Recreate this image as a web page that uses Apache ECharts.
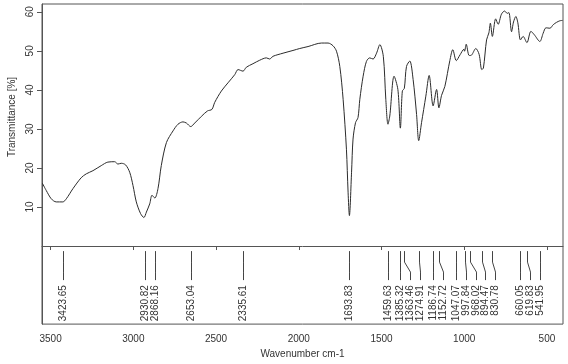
<!DOCTYPE html>
<html>
<head>
<meta charset="utf-8">
<script src="https://cdn.jsdelivr.net/npm/echarts@6/dist/echarts.min.js"></script>
<style>
html, body { margin: 0; padding: 0; background: #fff; }
#irChart { width: 568px; height: 364px; }
</style>
</head>
<body>
<div id="irChart"></div>
<script>
// spectrum (wavenumber cm-1 / transmittance %)
var wavenumbers = [
  3550, 3526, 3496, 3466, 3426, 3405, 3365, 3315, 3284, 3244, 3194, 3154, 3113, 3093, 3073, 3047,
  3022, 3002, 2982, 2956, 2936, 2921, 2901, 2887, 2870, 2851, 2831, 2800, 2760, 2730, 2700, 2679,
  2653, 2629, 2589, 2552, 2525, 2508, 2468, 2428, 2387, 2367, 2337, 2317, 2277, 2236, 2196, 2176,
  2156, 2095, 2035, 1994, 1944, 1863, 1823, 1793, 1772, 1752, 1732, 1712, 1702, 1694, 1681, 1672,
  1657, 1642, 1631, 1611, 1591, 1571, 1551, 1530, 1510, 1489, 1474, 1461, 1450, 1424, 1401, 1386,
  1374, 1362, 1349, 1329, 1309, 1288, 1275, 1258, 1232, 1212, 1188, 1167, 1153, 1137, 1117, 1087,
  1069, 1048, 1025, 1002, 998, 988, 970, 956, 930, 910, 894, 884, 865, 851, 842, 830,
  810, 795, 775, 756, 740, 730, 714, 702, 688, 676, 660, 644, 621, 597, 576, 543,
  523, 506, 482, 462, 442, 422, 405
];
var transmittance = [
  16.1, 14.2, 12.1, 11.3, 11.3, 12.1, 14.7, 17.5, 18.5, 19.3, 20.6, 21.5, 21.6, 21.0, 21.2, 20.8,
  18.9, 15.5, 11.3, 8.3, 7.3, 8.7, 10.8, 13.0, 12.3, 14.7, 20.6, 26.5, 29.5, 31.2, 31.8, 31.5,
  30.6, 31.5, 33.2, 34.6, 35.0, 36.8, 39.7, 41.8, 43.9, 45.2, 44.8, 45.8, 46.7, 47.6, 48.2, 47.9,
  48.6, 49.4, 50.1, 50.6, 51.1, 52.0, 52.0, 51.3, 49.9, 46.0, 37.6, 24.8, 13.8, 7.8, 18.9, 27.4,
  31.6, 32.9, 37.6, 43.5, 47.3, 48.2, 47.9, 49.4, 51.6, 48.6, 37.6, 31.2, 33.3, 43.5, 40.1, 30.2,
  39.7, 40.4, 46.0, 47.4, 42.7, 33.7, 27.0, 31.6, 38.4, 43.7, 35.9, 40.1, 35.4, 38.6, 40.9, 47.5,
  50.3, 47.5, 49.0, 50.4, 49.9, 51.7, 48.8, 48.9, 50.6, 49.1, 45.2, 45.6, 52.8, 54.6, 57.1, 53.7,
  58.2, 56.8, 59.4, 60.2, 59.6, 59.8, 54.9, 57.4, 58.8, 57.2, 52.8, 53.7, 52.1, 55.0, 54.1, 52.4,
  54.5, 55.9, 55.8, 56.7, 57.3, 57.7, 57.8
];
// picked peaks
var peakWavenumbers = [
  3423.65, 2930.82, 2868.16, 2653.04, 2335.61, 1693.83, 1459.63, 1385.32, 1363.46, 1274.91,
  1186.74, 1152.72, 1047.07, 997.84, 968.02, 894.47, 830.78, 660.05, 619.83, 541.95
];
var xTicks = [3500, 3000, 2500, 2000, 1500, 1000, 500];
var yTicks = [10, 20, 30, 40, 50, 60];

var textColor = "#333";
var fontFamily = '"Liberation Sans", Arial, sans-serif';

var irChart = echarts.init(document.getElementById("irChart"));

// push labels apart when two peaks are too close (left to right)
function labelPositions(api) {
  var out = [];
  peakWavenumbers.forEach(function (w, i) {
    var x = api.coord([w, 0])[0];
    out.push(i === 0 ? x : Math.max(x, out[i - 1] + 9.6));
  });
  return out;
}

function renderPeak(params, api) {
  var cs = params.coordSys;
  var bottom = cs.y + cs.height;
  var idx = params.dataIndex;
  var x0 = Math.round(api.coord([api.value(0), 0])[0]) + 0.5;
  var xl = Math.round(labelPositions(api)[idx]) + 0.5;
  return {
    type: "group",
    children: [
      {
        type: "polyline",
        shape: {
          points: [[x0, bottom - 73], [x0, bottom - 62], [xl, bottom - 52], [xl, bottom - 44]]
        },
        style: { stroke: "#444", lineWidth: 1, fill: null }
      },
      {
        type: "text",
        x: xl,
        y: bottom - 39,
        rotation: Math.PI / 2,
        style: {
          text: api.value(0).toFixed(2),
          fill: textColor,
          fontSize: 10,
          fontFamily: fontFamily,
          align: "right",
          verticalAlign: "middle"
        }
      }
    ]
  };
}

// y tick labels, turned like the R plot (read bottom to top)
function renderYLabel(params, api) {
  var cs = params.coordSys;
  var y = api.coord([0, api.value(1)])[1];
  return {
    type: "text",
    x: cs.x - 12,
    y: y,
    rotation: Math.PI / 2,
    style: {
      text: String(api.value(1)),
      fill: textColor,
      fontSize: 10,
      fontFamily: fontFamily,
      align: "center",
      verticalAlign: "middle"
    }
  };
}

var option = {
  animation: false,
  grid: {
    left: 42,
    right: 5,
    top: 4,
    bottom: 38,
    show: true,
    borderColor: "#555",
    borderWidth: 1
  },
  xAxis: {
    type: "value",
    inverse: true,
    min: 403,
    max: 3552,
    name: "Wavenumber cm-1",
    nameLocation: "middle",
    nameGap: 24,
    nameTextStyle: { color: textColor, fontSize: 10, fontFamily: fontFamily },
    axisLine: { show: true, lineStyle: { color: "#555" } },
    axisTick: { show: true, length: 4, customValues: xTicks, lineStyle: { color: "#555" } },
    axisLabel: {
      customValues: xTicks,
      margin: 10,
      color: textColor,
      fontSize: 10,
      fontFamily: fontFamily,
      formatter: function (v) { return String(v); }
    },
    splitLine: { show: false }
  },
  yAxis: {
    type: "value",
    min: -20,
    max: 62,
    axisLine: { show: true, lineStyle: { color: "#555" } },
    axisTick: { show: true, length: 5, customValues: yTicks, lineStyle: { color: "#555" } },
    axisLabel: { show: false },
    splitLine: { show: false }
  },
  graphic: [
    {
      type: "text",
      x: 12,
      y: 117,
      rotation: Math.PI / 2,
      style: {
        text: "Transmittance [%]",
        fill: textColor,
        fontSize: 10,
        fontFamily: fontFamily,
        align: "center",
        verticalAlign: "middle"
      }
    }
  ],
  series: [
    {
      name: "spectrum",
      type: "line",
      data: wavenumbers.map(function (w, i) { return [w, transmittance[i]]; }),
      showSymbol: false,
      smooth: 0.3,
      lineStyle: { color: "#2b2b2b", width: 1 }
    },
    {
      name: "peaks",
      type: "custom",
      renderItem: renderPeak,
      encode: { x: 0, y: 1 },
      data: peakWavenumbers.map(function (w) { return [w, 0]; }),
      silent: true
    },
    {
      name: "yLabels",
      type: "custom",
      renderItem: renderYLabel,
      encode: { x: 0, y: 1 },
      data: yTicks.map(function (v) { return [1000, v]; }),
      clip: false,
      silent: true
    }
  ]
};

irChart.setOption(option);
</script>
</body>
</html>
